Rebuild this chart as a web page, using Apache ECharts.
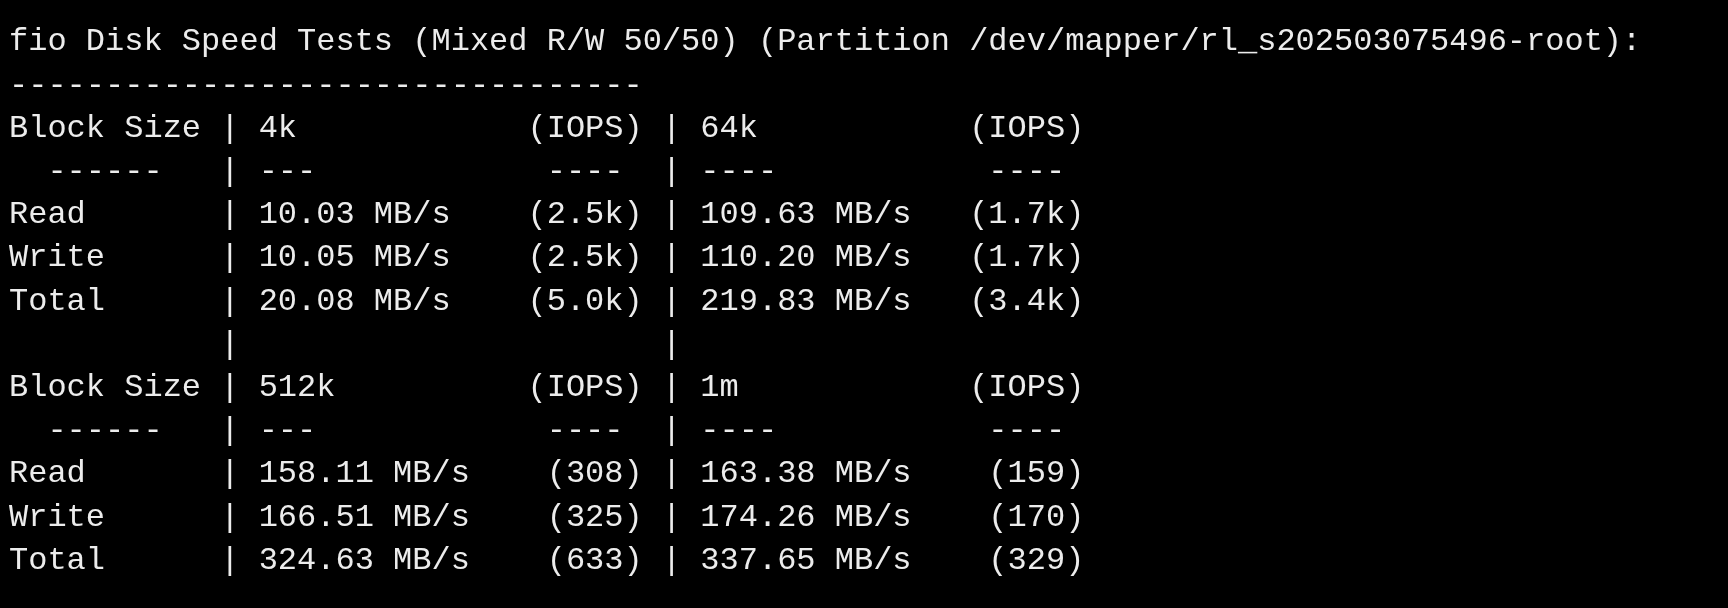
<!DOCTYPE html>
<html>
<head>
<meta charset="utf-8">
<style>
  html, body { margin: 0; padding: 0; background: #000; }
  #main { width: 1728px; height: 608px; }
</style>
<script src="https://cdn.jsdelivr.net/npm/echarts@6/dist/echarts.min.js"></script>
</head>
<body>
<div id="main"></div>
<script>
var title = 'fio Disk Speed Tests (Mixed R/W 50/50) (Partition /dev/mapper/rl_s202503075496-root):';
var blockSizes = [['4k', '64k'], ['512k', '1m']];
var rowLabels = ['Read', 'Write', 'Total'];
// speeds in MB/s, per block group: [left column, right column]
var speeds = [
  [[10.03, 109.63], [10.05, 110.20], [20.08, 219.83]],
  [[158.11, 163.38], [166.51, 174.26], [324.63, 337.65]]
];
var iops = [
  [['2.5k', '1.7k'], ['2.5k', '1.7k'], ['5.0k', '3.4k']],
  [['308', '159'], ['325', '170'], ['633', '329']]
];

function row(label, a, b, c, d) {
  return label.padEnd(10) + ' | ' + a.padEnd(12) + c.padStart(8) + ' | ' + b.padEnd(12) + d.padStart(8);
}

var lines = [title, '-'.repeat(33)];
for (var g = 0; g < blockSizes.length; g++) {
  if (g > 0) lines.push(' '.repeat(10) + ' |' + ' '.repeat(22) + '|');
  lines.push(row('Block Size', blockSizes[g][0], blockSizes[g][1], '(IOPS)', '(IOPS)'));
  lines.push(row('  ------', '---', '----', '---- ', '---- '));
  for (var r = 0; r < rowLabels.length; r++) {
    lines.push(row(rowLabels[r],
      speeds[g][r][0].toFixed(2) + ' MB/s',
      speeds[g][r][1].toFixed(2) + ' MB/s',
      '(' + iops[g][r][0] + ')',
      '(' + iops[g][r][1] + ')'));
  }
}

var graphics = [];
for (var i = 0; i < lines.length; i++) {
  graphics.push({
    type: 'text',
    left: 9,
    top: 44 + i * 43.2 - 18,
    style: {
      text: lines[i],
      fill: '#ececec',
      font: '32px "Liberation Mono", "DejaVu Sans Mono", monospace'
    }
  });
}

var chart = echarts.init(document.getElementById('main'));
chart.setOption({
  backgroundColor: '#000',
  graphic: graphics
});
</script>
</body>
</html>
